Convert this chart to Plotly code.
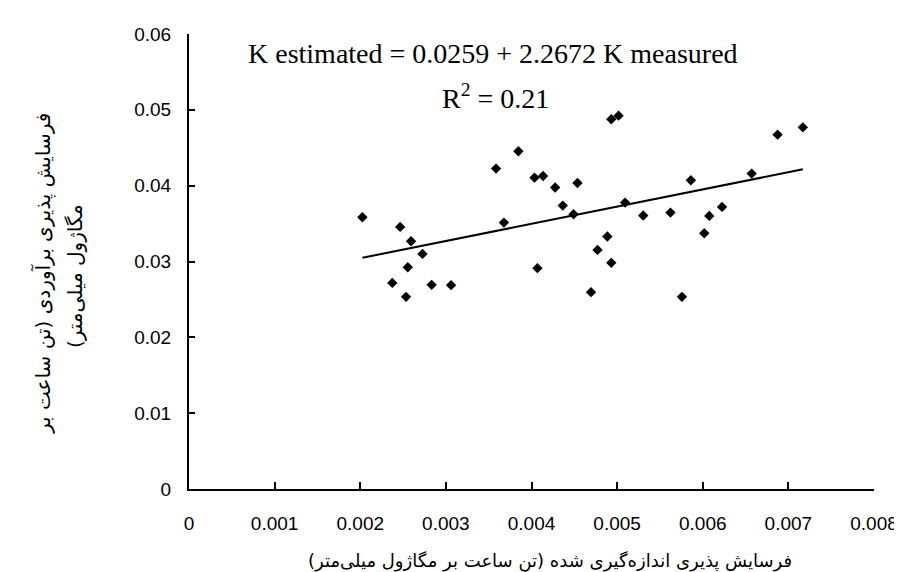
import plotly.graph_objects as go
import numpy as np

# measured vs estimated erodibility
k_measured = [0.002025, 0.002466, 0.002593, 0.002727, 0.002555, 0.002374, 0.002535,
              0.002834, 0.003061, 0.003586, 0.003678, 0.003847, 0.004035, 0.004135,
              0.004069, 0.004276, 0.004365, 0.004491, 0.004537, 0.004695, 0.004771,
              0.004886, 0.004932, 0.004932, 0.005017, 0.005093, 0.005305, 0.005623,
              0.005757, 0.005861, 0.006018, 0.006076, 0.006225, 0.006571, 0.006874,
              0.007169]
k_estimated = [0.03584, 0.03456, 0.03267, 0.03100, 0.02925, 0.02718, 0.02534,
               0.02692, 0.02688, 0.04225, 0.03513, 0.04453, 0.04106, 0.04128,
               0.02912, 0.03975, 0.03737, 0.03623, 0.04036, 0.02596, 0.03153,
               0.03329, 0.02982, 0.04875, 0.04923, 0.03777, 0.03606, 0.03645,
               0.02534, 0.04071, 0.03373, 0.03601, 0.03720, 0.04159, 0.04673,
               0.04769]

# regression shown on the chart
intercept = 0.0259
slope = 2.2672
r2 = 0.21

x_ticks = [0, 0.001, 0.002, 0.003, 0.004, 0.005, 0.006, 0.007, 0.008]
x_ticktext = ["0", "0.001", "0.002", "0.003", "0.004", "0.005", "0.006", "0.007", "0.008"]
y_ticks = [0, 0.01, 0.02, 0.03, 0.04, 0.05, 0.06]
y_ticktext = ["0", "0.01", "0.02", "0.03", "0.04", "0.05", "0.06"]

RLM = "\u200f"
x_title = RLM + "فرسایش پذیری اندازه‌گیری شده (تن ساعت بر مگاژول میلی‌متر)" + RLM
y_title_1 = RLM + "فرسایش پذیری برآوردی (تن ساعت بر" + RLM
y_title_2 = RLM + "مگاژول میلی‌متر)" + RLM

fit_x = np.array([min(k_measured), max(k_measured)])
fit_y = intercept + slope * fit_x

fig = go.Figure()

fig.add_trace(go.Scatter(
    x=k_measured, y=k_estimated,
    mode="markers",
    marker=dict(symbol="diamond", size=8, color="black"),
    showlegend=False
))

fig.add_trace(go.Scatter(
    x=fit_x, y=fit_y,
    mode="lines",
    line=dict(color="black", width=2),
    showlegend=False
))

eq_font = dict(family="Liberation Serif, Times New Roman, serif", size=28, color="black")
fa_font = dict(family="DejaVu Sans, sans-serif", size=18, color="black")
fa_font_y = dict(family="DejaVu Sans, sans-serif", size=20, color="black")

# positions given in pixels from the plot's bottom-left corner
fig.add_annotation(
    text=f"K estimated = {intercept} + {slope} K measured",
    xref="paper", yref="paper", x=0, y=0, xshift=304, yshift=436,
    xanchor="center", yanchor="middle", showarrow=False, font=eq_font
)
fig.add_annotation(
    text=f"R<sup>2</sup> = {r2}",
    xref="paper", yref="paper", x=0, y=0, xshift=306, yshift=393,
    xanchor="center", yanchor="middle", showarrow=False, font=eq_font
)
fig.add_annotation(
    text=x_title,
    xref="paper", yref="paper", x=0, y=0, xshift=361, yshift=-72,
    xanchor="center", yanchor="middle", showarrow=False, font=fa_font
)
fig.add_annotation(
    text=y_title_1, textangle=-90,
    xref="paper", yref="paper", x=0, y=0, xshift=-146, yshift=215,
    xanchor="center", yanchor="middle", showarrow=False, font=fa_font_y
)
fig.add_annotation(
    text=y_title_2, textangle=-90,
    xref="paper", yref="paper", x=0, y=0, xshift=-114, yshift=213,
    xanchor="center", yanchor="middle", showarrow=False, font=fa_font_y
)

axis_style = dict(
    showline=True, linecolor="black", linewidth=2,
    ticks="inside", tickcolor="black", tickwidth=2,
    showgrid=False, zeroline=False,
    tickfont=dict(family="Liberation Sans, Arial, sans-serif", size=19, color="black"),
)

fig.update_xaxes(range=[0, 0.008], tickvals=x_ticks, ticktext=x_ticktext,
                 ticklen=7, ticklabelstandoff=16, **axis_style)
fig.update_yaxes(range=[0, 0.06], tickvals=y_ticks, ticktext=y_ticktext,
                 ticklen=6, ticklabelstandoff=12, **axis_style)

fig.update_layout(
    width=902, height=572,
    margin=dict(l=181, r=26, t=26, b=91),
    plot_bgcolor="white", paper_bgcolor="white",
)

fig.write_html("out.html")
